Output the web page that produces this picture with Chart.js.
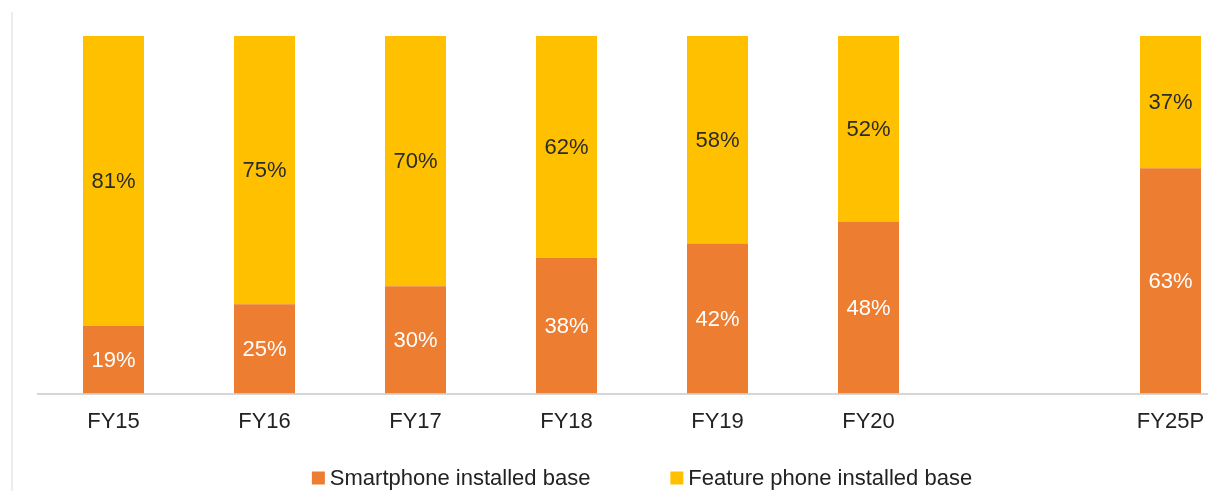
<!DOCTYPE html>
<html>
<head>
<meta charset="utf-8">
<title>Smartphone vs feature phone installed base</title>
<script src="https://cdn.jsdelivr.net/npm/chart.js@4.4.1/dist/chart.umd.min.js"></script>
<style>
  html, body { margin: 0; padding: 0; background: #fff; overflow: hidden; }
  #frame { position: absolute; left: 11px; top: 12px; bottom: 0; border-left: 2px solid #ececec; }
  #wrap { position: relative; width: 1250px; height: 491px; }
</style>
</head>
<body>
<div id="frame"></div>
<div id="wrap"><canvas id="bar-chart"></canvas></div>
<script>
const categories = ["FY15", "FY16", "FY17", "FY18", "FY19", "FY20", "", "FY25P"];
const smartphone = [19, 25, 30, 38, 42, 48, null, 63];
const featurePhone = [81, 75, 70, 62, 58, 52, null, 37];

const ORANGE = "#ED7D31";
const YELLOW = "#FFC000";
const FONT = "'Liberation Sans', Arial, sans-serif";

// percent labels centred in each stacked segment
const segmentLabels = {
  id: "segmentLabels",
  afterDatasetsDraw(chart) {
    const ctx = chart.ctx;
    ctx.save();
    ctx.font = "22px " + FONT;
    ctx.textAlign = "center";
    ctx.textBaseline = "middle";
    chart.data.datasets.forEach((ds, i) => {
      const meta = chart.getDatasetMeta(i);
      meta.data.forEach((bar, j) => {
        const v = ds.data[j];
        if (v === null || v === undefined) return;
        const p = bar.getProps(["x", "y", "base"], true);
        ctx.fillStyle = ds.labelColor;
        ctx.fillText(v + "%", p.x, (p.y + p.base) / 2 + 1);
      });
    });
    ctx.restore();
  },
};

// legend drawn at the bottom, centred on the plot
const bottomLegend = {
  id: "bottomLegend",
  afterDraw(chart) {
    const ctx = chart.ctx;
    const area = chart.chartArea;
    const box = 13, gap = 5, spacing = 80, y = 478;
    ctx.save();
    ctx.font = "22px " + FONT;
    ctx.textBaseline = "middle";
    const items = chart.data.datasets.map((ds) => ({
      text: ds.label,
      color: ds.backgroundColor,
      w: box + gap + ctx.measureText(ds.label).width,
    }));
    const total = items.reduce((s, it) => s + it.w, 0) + spacing * (items.length - 1);
    let x = (area.left + area.right) / 2 - total / 2;
    items.forEach((it) => {
      ctx.fillStyle = it.color;
      ctx.fillRect(x, y - box / 2, box, box);
      ctx.fillStyle = "#222";
      ctx.fillText(it.text, x + box + gap, y + 1);
      x += it.w + spacing;
    });
    ctx.restore();
  },
};

new Chart(document.getElementById("bar-chart").getContext("2d"), {
  type: "bar",
  data: {
    labels: categories,
    datasets: [
      {
        label: "Smartphone installed base",
        data: smartphone,
        backgroundColor: ORANGE,
        labelColor: "#ffffff",
        categoryPercentage: 1,
        barPercentage: 0.404,
      },
      {
        label: "Feature phone installed base",
        data: featurePhone,
        backgroundColor: YELLOW,
        labelColor: "#2b2b2b",
        categoryPercentage: 1,
        barPercentage: 0.404,
      },
    ],
  },
  options: {
    responsive: true,
    maintainAspectRatio: false,
    animation: false,
    layout: { padding: { left: 38, right: 4, top: 36, bottom: 41 } },
    plugins: {
      legend: { display: false },
      tooltip: { enabled: false },
    },
    scales: {
      x: {
        stacked: true,
        grid: { display: false, drawTicks: false },
        border: { display: true, color: "#d6d6d6", width: 2 },
        ticks: { color: "#222", font: { family: FONT, size: 22 }, padding: 15, maxRotation: 0 },
      },
      y: {
        stacked: true,
        display: false,
        min: 0,
        max: 100,
      },
    },
  },
  plugins: [segmentLabels, bottomLegend],
});
</script>
</body>
</html>
